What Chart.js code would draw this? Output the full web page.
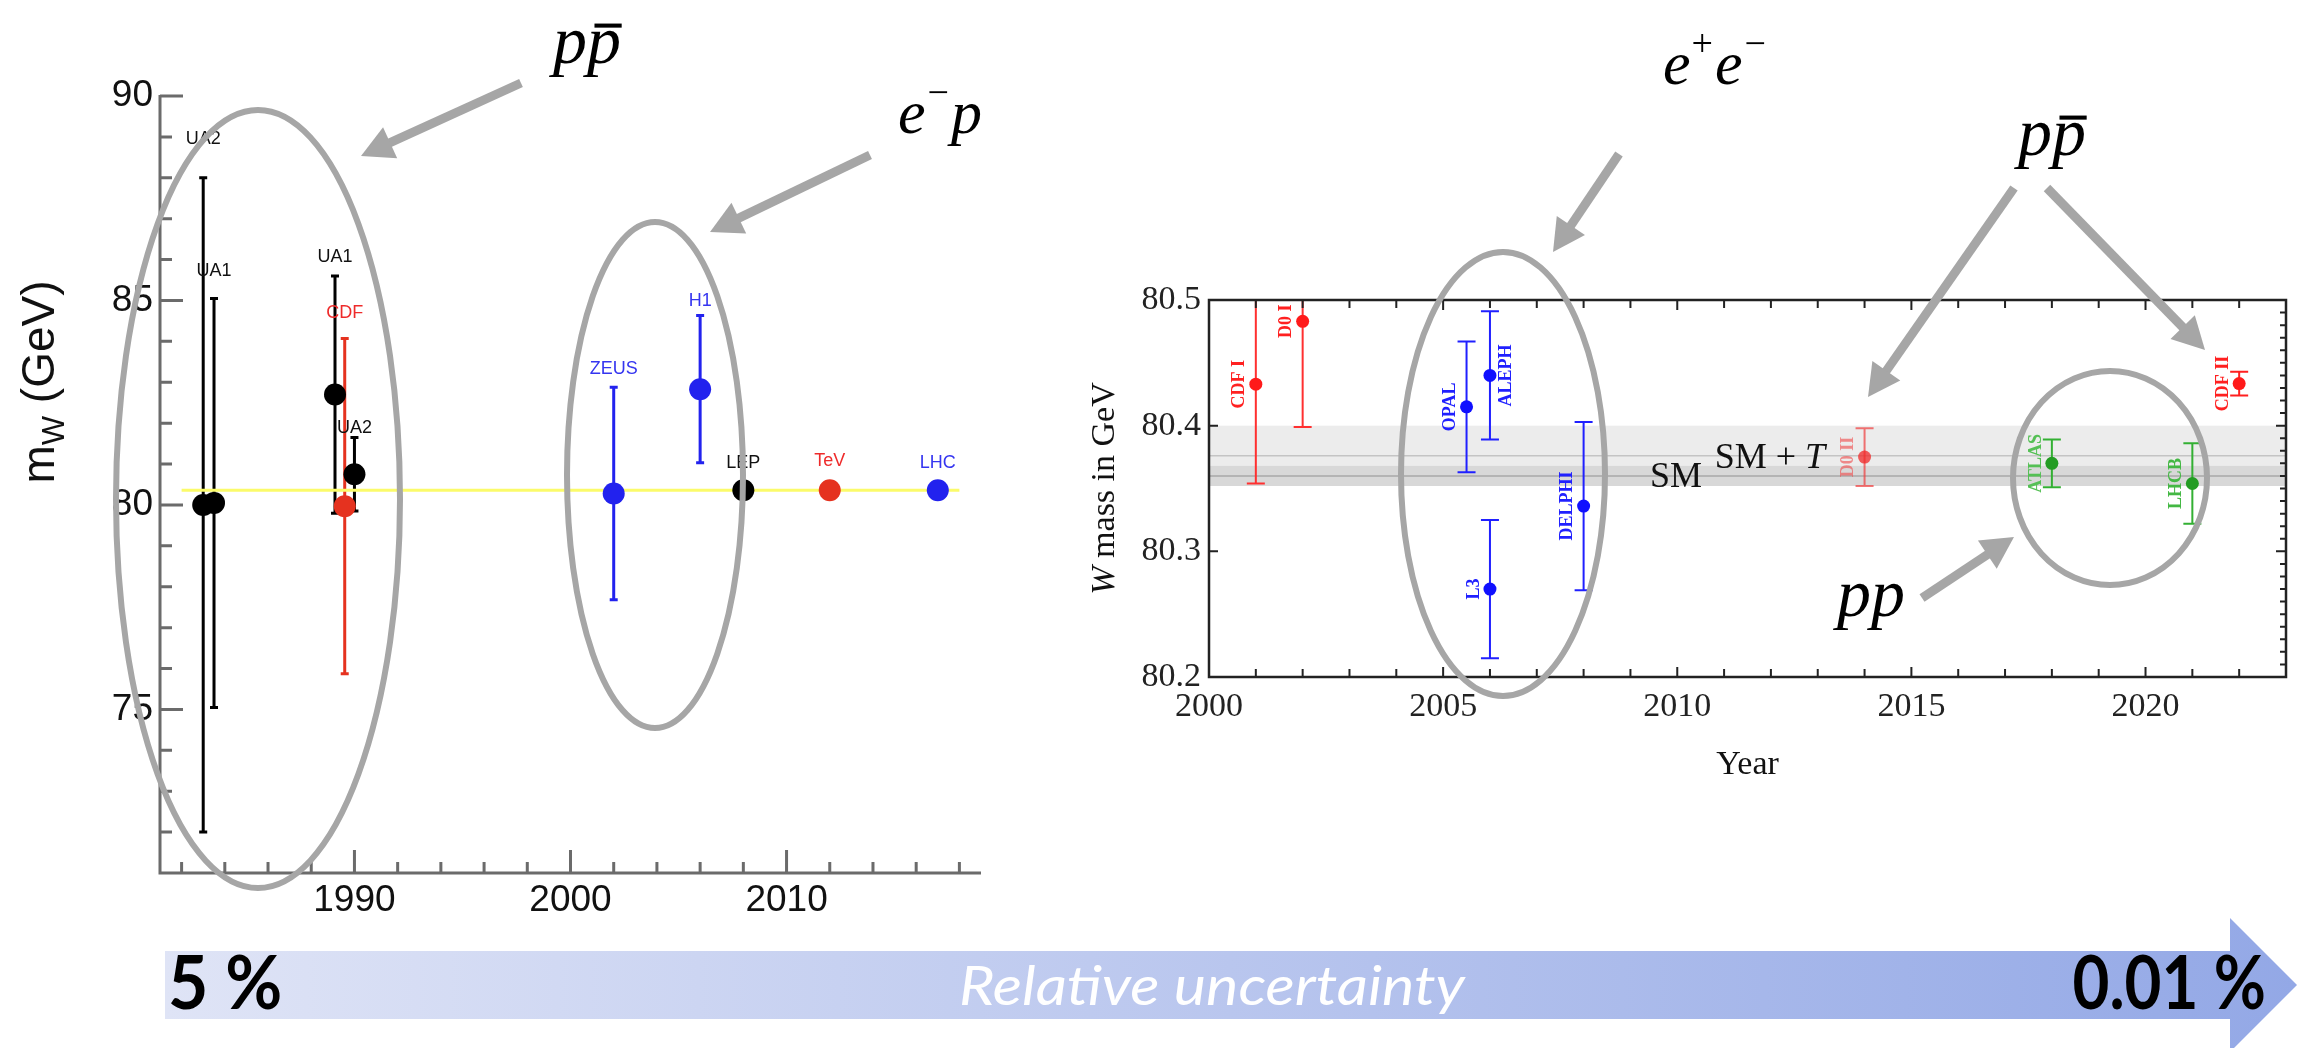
<!DOCTYPE html>
<html>
<head>
<meta charset="utf-8">
<title>W mass measurements</title>
<script src="https://cdn.jsdelivr.net/npm/chart.js@4.4.1/dist/chart.umd.min.js"></script>
<style>
  html, body { margin: 0; padding: 0; background: #fff; }
  #stage { position: relative; width: 2297px; height: 1048px; overflow: hidden; }
  #stage canvas { position: absolute; }
  #earlyChart { left: 0; top: 0; }
  #precChart { left: 1040px; top: 200px; }
  #overlay { left: 0; top: 0; pointer-events: none; }
</style>
</head>
<body>
<div id="stage">
  <canvas id="earlyChart" width="1000" height="940"></canvas>
  <canvas id="precChart" width="1257" height="600"></canvas>
  <canvas id="overlay" width="2297" height="1048"></canvas>
</div>
<script>
// early measurements (left panel), GeV
const earlyLabels = ['UA2', 'UA1', 'UA1', 'CDF', 'UA2', 'ZEUS', 'H1', 'LEP', 'TeV', 'LHC'];
const earlyYears  = [1983.0, 1983.5, 1989.1, 1989.55, 1990.0, 2002.0, 2006.0, 2008.0, 2012.0, 2017.0];
const earlyMass   = [80.0, 80.05, 82.7, 79.97, 80.75, 80.28, 82.83, 80.36, 80.36, 80.36];
const earlyErr    = [8.0, 5.0, 2.9, 4.1, 0.9, 2.6, 1.8, 0, 0, 0];
const earlyXTicks = [1990, 2000, 2010];
const earlyYTicks = [75, 80, 85, 90];
const refYears = [1982, 2018];
const refMass  = [80.36, 80.36];

// precision measurements (right panel), GeV
const precLabels = ['CDF I', 'D0 I', 'OPAL', 'ALEPH', 'L3', 'DELPHI', 'D0 II', 'ATLAS', 'LHCB', 'CDF II'];
const precYears  = [2001, 2002, 2005.5, 2006, 2006, 2008, 2014, 2018, 2021, 2022];
const precMass   = [80.433, 80.483, 80.415, 80.440, 80.270, 80.336, 80.375, 80.370, 80.354, 80.4335];
const precErr    = [0.079, 0.084, 0.052, 0.051, 0.055, 0.067, 0.023, 0.019, 0.032, 0.0094];
const precXTicks = [2000, 2005, 2010, 2015, 2020];
const precYTicks = [80.2, 80.3, 80.4, 80.5];
const smBand  = [80.352, 80.368];
const smtBand = [80.352, 80.400];
const smCentral  = 80.360;
const smtCentral = 80.376;

// styling
const BLACK = '#000000', RED = '#e5321f', BLUE = '#2222ee';
const earlyColors = [BLACK, BLACK, BLACK, RED, BLACK, BLUE, BLUE, BLACK, RED, BLUE];
const earlyTextColors = ['#111', '#111', '#111', '#ee2b2b', '#111', '#3535f0', '#3535f0', '#111', '#ee2b2b', '#3535f0'];
const earlyLabelGap = [39, 27, 19, 25, 9, 18, 15, 27, 29, 27];

const precColors = ['#ff1a1a', '#ff1a1a', '#1010ff', '#1010ff', '#1010ff', '#1010ff',
                    'rgba(240,40,40,0.75)', '#239c23', '#239c23', '#ff1a1a'];
const precBarColors = ['#ff3030', '#ff3030', '#2020ff', '#2020ff', '#2020ff', '#2020ff',
                       'rgba(240,60,60,0.7)', '#33b033', '#33b033', '#ff2020'];
const precTextColors = ['#ff2020', '#ff2020', '#2020ff', '#2020ff', '#2020ff', '#2020ff',
                        'rgba(240,70,70,0.6)', '#55c055', '#44b844', '#ff2020'];
const precLabelSide = [-1, -1, -1, 1, -1, -1, -1, -1, -1, -1];

const SANS = '"Liberation Sans", Arial, sans-serif';
const SERIF = '"Liberation Serif", "Times New Roman", serif';

// left panel: error bars, labels, open axes with inward ticks
const earlyDecor = {
  id: 'earlyDecor',
  beforeDatasetsDraw(chart) {
    const { ctx, chartArea: a, scales: { x, y } } = chart;
    ctx.save();
    // axes
    ctx.strokeStyle = '#6b6b6b';
    ctx.lineWidth = 3;
    ctx.beginPath();
    ctx.moveTo(a.left, a.top - 1);
    ctx.lineTo(a.left, a.bottom);
    ctx.lineTo(a.right, a.bottom);
    for (let v = 71; v <= 90; v++) {
      const py = y.getPixelForValue(v);
      ctx.moveTo(a.left, py);
      ctx.lineTo(a.left + (v % 5 === 0 ? 23 : 12), py);
    }
    for (let yr = 1982; yr <= 2018; yr += 2) {
      const px = x.getPixelForValue(yr);
      ctx.moveTo(px, a.bottom);
      ctx.lineTo(px, a.bottom - (yr % 10 === 0 ? 23 : 11));
    }
    ctx.stroke();

    // error bars
    ctx.lineWidth = 3;
    earlyYears.forEach((yr, i) => {
      if (!earlyErr[i]) return;
      const px = x.getPixelForValue(yr);
      const top = y.getPixelForValue(earlyMass[i] + earlyErr[i]);
      const bot = y.getPixelForValue(earlyMass[i] - earlyErr[i]);
      ctx.strokeStyle = earlyColors[i];
      ctx.beginPath();
      ctx.moveTo(px, top); ctx.lineTo(px, bot);
      ctx.moveTo(px - 4, top); ctx.lineTo(px + 4, top);
      ctx.moveTo(px - 4, bot); ctx.lineTo(px + 4, bot);
      ctx.stroke();
    });

    // axis title m_W (GeV)
    ctx.translate(54, 382);
    ctx.rotate(-Math.PI / 2);
    ctx.fillStyle = '#111';
    ctx.textBaseline = 'alphabetic';
    ctx.textAlign = 'left';
    const big = '46px ' + SANS, small = '31px ' + SANS;
    ctx.font = big; const wm = ctx.measureText('m').width; const wr = ctx.measureText(' (GeV)').width;
    ctx.font = small; const ww = ctx.measureText('W').width;
    let tx = -(wm + ww + wr) / 2;
    ctx.font = big; ctx.fillText('m', tx, 0); tx += wm;
    ctx.font = small; ctx.fillText('W', tx, 10); tx += ww;
    ctx.font = big; ctx.fillText(' (GeV)', tx, 0);
    ctx.restore();
  },
  afterDatasetsDraw(chart) {
    const { ctx, scales: { x, y } } = chart;
    ctx.save();
    ctx.font = '18px ' + SANS;
    ctx.textAlign = 'center';
    ctx.textBaseline = 'middle';
    earlyLabels.forEach((lab, i) => {
      const px = x.getPixelForValue(earlyYears[i]);
      const top = y.getPixelForValue(earlyMass[i] + earlyErr[i]);
      ctx.fillStyle = earlyTextColors[i];
      ctx.fillText(lab, px, top - earlyLabelGap[i]);
    });
    ctx.restore();
  }
};

// right panel: SM bands, error bars, rotated labels, boxed frame
const precDecor = {
  id: 'precDecor',
  beforeDatasetsDraw(chart) {
    const { ctx, chartArea: a, scales: { x, y } } = chart;
    ctx.save();
    ctx.beginPath();
    ctx.rect(a.left, a.top, a.right - a.left, a.bottom - a.top);
    ctx.clip();

    const band = (lo, hi, color) => {
      const t = y.getPixelForValue(hi), b = y.getPixelForValue(lo);
      ctx.fillStyle = color;
      ctx.fillRect(a.left, t, a.right - a.left, b - t);
    };
    band(smtBand[0], smtBand[1], '#ececec');
    band(smBand[0], smBand[1], '#d8d8d8');
    ctx.lineWidth = 1.5;
    [[smtCentral, '#c4c4c4'], [smCentral, '#a8a8a8']].forEach(([v, c]) => {
      const py = y.getPixelForValue(v);
      ctx.strokeStyle = c;
      ctx.beginPath(); ctx.moveTo(a.left, py); ctx.lineTo(a.right, py); ctx.stroke();
    });

    // band labels
    ctx.fillStyle = '#111';
    ctx.textBaseline = 'alphabetic';
    ctx.textAlign = 'left';
    ctx.font = '36px ' + SERIF;
    ctx.fillText('SM', x.getPixelForValue(2009.42), y.getPixelForValue(80.351));
    const sx = x.getPixelForValue(2010.8), sy = y.getPixelForValue(80.366);
    const part = 'SM + ';
    ctx.fillText(part, sx, sy);
    const pw = ctx.measureText(part).width;
    ctx.font = 'italic 36px ' + SERIF;
    ctx.fillText('T', sx + pw, sy);

    // error bars
    ctx.lineWidth = 2;
    precYears.forEach((yr, i) => {
      const px = x.getPixelForValue(yr);
      const top = y.getPixelForValue(precMass[i] + precErr[i]);
      const bot = y.getPixelForValue(precMass[i] - precErr[i]);
      ctx.strokeStyle = precBarColors[i];
      ctx.beginPath();
      ctx.moveTo(px, top); ctx.lineTo(px, bot);
      ctx.moveTo(px - 9, top); ctx.lineTo(px + 9, top);
      ctx.moveTo(px - 9, bot); ctx.lineTo(px + 9, bot);
      ctx.stroke();
    });
    ctx.restore();
  },
  afterDatasetsDraw(chart) {
    const { ctx, chartArea: a, scales: { x, y } } = chart;
    ctx.save();
    ctx.font = 'bold 18px ' + SERIF;
    ctx.textAlign = 'center';
    ctx.textBaseline = 'middle';
    precLabels.forEach((lab, i) => {
      const px = x.getPixelForValue(precYears[i]) + precLabelSide[i] * 16;
      const py = y.getPixelForValue(precMass[i]);
      ctx.save();
      ctx.translate(px, py);
      ctx.rotate(-Math.PI / 2);
      ctx.fillStyle = precTextColors[i];
      ctx.fillText(lab, 0, 0);
      ctx.restore();
    });

    // frame and inward ticks
    ctx.strokeStyle = '#222';
    ctx.lineWidth = 2.5;
    ctx.strokeRect(a.left, a.top, a.right - a.left, a.bottom - a.top);
    ctx.lineWidth = 2;
    ctx.beginPath();
    for (let yr = 2001; yr <= 2022; yr++) {
      const px = x.getPixelForValue(yr);
      const len = yr % 5 === 0 ? 10 : 8;
      ctx.moveTo(px, a.bottom); ctx.lineTo(px, a.bottom - len);
      ctx.moveTo(px, a.top); ctx.lineTo(px, a.top + len);
    }
    for (let k = 1; k < 30; k++) {
      const v = 80.2 + k * 0.01;
      const py = y.getPixelForValue(v);
      const major = k % 10 === 0;
      ctx.moveTo(a.right, py); ctx.lineTo(a.right - (major ? 10 : 6), py);
      if (major) { ctx.moveTo(a.left, py); ctx.lineTo(a.left + 9, py); }
    }
    ctx.stroke();

    // axis titles
    ctx.fillStyle = '#111';
    ctx.textAlign = 'center';
    ctx.textBaseline = 'middle';
    ctx.font = '34px ' + SERIF;
    ctx.fillText('Year', (a.left + a.right) / 2, a.bottom + 88);

    ctx.translate(a.left - 95, (a.top + a.bottom) / 2);
    ctx.rotate(-Math.PI / 2);
    ctx.textBaseline = 'alphabetic';
    ctx.textAlign = 'left';
    ctx.font = 'italic 34px ' + SERIF;
    const wW = ctx.measureText('W').width;
    ctx.font = '34px ' + SERIF;
    const rest = ' mass in GeV';
    const wr = ctx.measureText(rest).width;
    let tx = -(wW + wr) / 2;
    ctx.font = 'italic 34px ' + SERIF;
    ctx.fillText('W', tx, 0);
    ctx.font = '34px ' + SERIF;
    ctx.fillText(rest, tx + wW, 0);
    ctx.restore();
  }
};

function fixedTicks(values) {
  return scale => { scale.ticks = values.map(v => ({ value: v })); };
}

new Chart(document.getElementById('earlyChart'), {
  type: 'scatter',
  data: {
    datasets: [
      {
        data: earlyYears.map((yr, i) => ({ x: yr, y: earlyMass[i] })),
        backgroundColor: earlyColors,
        pointRadius: 11,
        pointBorderWidth: 0,
        order: 0
      },
      {
        type: 'line',
        data: refYears.map((yr, i) => ({ x: yr, y: refMass[i] })),
        borderColor: '#fbfb6a',
        borderWidth: 3,
        pointRadius: 0,
        order: 5
      }
    ]
  },
  options: {
    responsive: false,
    animation: false,
    devicePixelRatio: 1,
    layout: { padding: { left: 0, top: 96, right: 19, bottom: 0 } },
    plugins: { legend: { display: false }, tooltip: { enabled: false } },
    scales: {
      x: {
        type: 'linear', min: 1981, max: 2019,
        grid: { display: false, drawTicks: false },
        border: { display: false },
        afterBuildTicks: fixedTicks(earlyXTicks),
        afterFit: s => { s.height = 67; },
        ticks: {
          autoSkip: false, maxRotation: 0, padding: 6, color: '#111',
          font: { family: SANS, size: 37 },
          callback: v => String(v)
        }
      },
      y: {
        type: 'linear', min: 71, max: 90,
        grid: { display: false, drawTicks: false },
        border: { display: false },
        afterBuildTicks: fixedTicks(earlyYTicks),
        afterFit: s => { s.width = 160; },
        ticks: {
          autoSkip: false, padding: 7, color: '#111',
          font: { family: SANS, size: 37 },
          callback: v => String(v)
        }
      }
    }
  },
  plugins: [earlyDecor]
});

new Chart(document.getElementById('precChart'), {
  type: 'scatter',
  data: {
    datasets: [{
      data: precYears.map((yr, i) => ({ x: yr, y: precMass[i] })),
      backgroundColor: precColors,
      pointRadius: 6.5,
      pointBorderWidth: 0
    }]
  },
  options: {
    responsive: false,
    animation: false,
    devicePixelRatio: 1,
    layout: { padding: { left: 0, top: 100, right: 11, bottom: 0 } },
    plugins: { legend: { display: false }, tooltip: { enabled: false } },
    scales: {
      x: {
        type: 'linear', min: 2000, max: 2023,
        grid: { display: false, drawTicks: false },
        border: { display: false },
        afterBuildTicks: fixedTicks(precXTicks),
        afterFit: s => { s.height = 123; },
        ticks: {
          autoSkip: false, maxRotation: 0, padding: 10, color: '#222',
          font: { family: SERIF, size: 34 },
          callback: v => String(v)
        }
      },
      y: {
        type: 'linear', min: 80.2, max: 80.5,
        grid: { display: false, drawTicks: false },
        border: { display: false },
        afterBuildTicks: fixedTicks(precYTicks),
        afterFit: s => { s.width = 169; },
        ticks: {
          autoSkip: false, padding: 8, color: '#222',
          font: { family: SERIF, size: 34 },
          callback: v => v.toFixed(1)
        }
      }
    }
  },
  plugins: [precDecor]
});

// annotations: grouping ellipses, arrows, process labels, uncertainty arrow
(function drawOverlay() {
  const ctx = document.getElementById('overlay').getContext('2d');
  const GREY = '#a6a6a6';

  ctx.strokeStyle = GREY;
  ctx.lineWidth = 6;
  [[258, 499, 142, 389], [655, 475, 88, 253], [1503, 474, 102, 222], [2110, 478, 97, 107]]
    .forEach(([cx, cy, rx, ry]) => {
      ctx.beginPath();
      ctx.ellipse(cx, cy, rx, ry, 0, 0, Math.PI * 2);
      ctx.stroke();
    });

  function arrow(x0, y0, x1, y1) {
    const len = Math.hypot(x1 - x0, y1 - y0);
    const ux = (x1 - x0) / len, uy = (y1 - y0) / len;
    const head = 32, half = 17;
    const bx = x1 - ux * head, by = y1 - uy * head;
    ctx.strokeStyle = GREY;
    ctx.lineWidth = 9;
    ctx.beginPath();
    ctx.moveTo(x0, y0);
    ctx.lineTo(bx + ux * 3, by + uy * 3);
    ctx.stroke();
    ctx.fillStyle = GREY;
    ctx.beginPath();
    ctx.moveTo(x1, y1);
    ctx.lineTo(bx - uy * half, by + ux * half);
    ctx.lineTo(bx + uy * half, by - ux * half);
    ctx.closePath();
    ctx.fill();
  }
  arrow(521, 83, 361, 156);
  arrow(870, 155, 710, 232);
  arrow(1619, 154, 1553, 252);
  arrow(2014, 188, 1868, 397);
  arrow(2047, 188, 2205, 350);
  arrow(1922, 598, 2014, 537);

  // process labels in math italic
  const MATH = '"Liberation Serif", "DejaVu Serif", serif';
  ctx.fillStyle = '#000';
  ctx.textBaseline = 'alphabetic';
  ctx.textAlign = 'left';

  function ppbar(x, base, size) {
    ctx.font = 'italic ' + size + 'px ' + MATH;
    const w = ctx.measureText('p').width;
    ctx.fillText('pp', x, base);
    ctx.fillRect(x + w + w * 0.22, base - size * 0.58, w * 0.8, size * 0.06);
  }
  function sup(sym, x, base, size) {
    ctx.font = Math.round(size * 0.62) + 'px ' + MATH;
    ctx.fillText(sym, x, base - size * 0.45);
    return ctx.measureText(sym).width;
  }
  function ital(t, x, base, size) {
    ctx.font = 'italic ' + size + 'px ' + MATH;
    ctx.fillText(t, x, base);
    return ctx.measureText(t).width;
  }

  ppbar(553, 63, 68);

  let x = 898;
  x += ital('e', x, 133, 62);
  x += sup('\u2212', x + 2, 133, 62) + 4;
  ital('p', x, 133, 62);

  x = 1663;
  x += ital('e', x, 84, 62);
  x += sup('+', x + 1, 84, 62) + 3;
  x += ital('e', x, 84, 62);
  sup('\u2212', x + 2, 84, 62);

  ppbar(2018, 155, 68);
  ital('pp', 1837, 616, 68);

  // relative uncertainty arrow
  const g = ctx.createLinearGradient(165, 0, 2297, 0);
  g.addColorStop(0, '#dfe4f6');
  g.addColorStop(1, '#93a8e6');
  ctx.fillStyle = g;
  ctx.beginPath();
  ctx.moveTo(165, 951);
  ctx.lineTo(2230, 951);
  ctx.lineTo(2230, 918);
  ctx.lineTo(2297, 985);
  ctx.lineTo(2230, 1052);
  ctx.lineTo(2230, 1019);
  ctx.lineTo(165, 1019);
  ctx.closePath();
  ctx.fill();

  // end labels, slightly condensed
  ctx.fillStyle = '#000';
  ctx.font = 'bold 74px Lato, "Liberation Sans", sans-serif';
  ctx.save();
  ctx.translate(168, 1009);
  ctx.scale(0.94, 1);
  ctx.textAlign = 'left';
  ctx.fillText('5 %', 0, 0);
  ctx.restore();
  ctx.save();
  ctx.translate(2266, 1009);
  ctx.scale(0.86, 1);
  ctx.textAlign = 'right';
  ctx.fillText('0.01 %', 0, 0);
  ctx.restore();

  ctx.fillStyle = '#ffffff';
  ctx.font = 'italic 54px Lato, "Open Sans", sans-serif';
  ctx.save();
  ctx.translate(959, 1005);
  ctx.scale(1.13, 1);
  ctx.textAlign = 'left';
  ctx.fillText('Relative uncertainty', 0, 0);
  ctx.restore();
})();
</script>
</body>
</html>
